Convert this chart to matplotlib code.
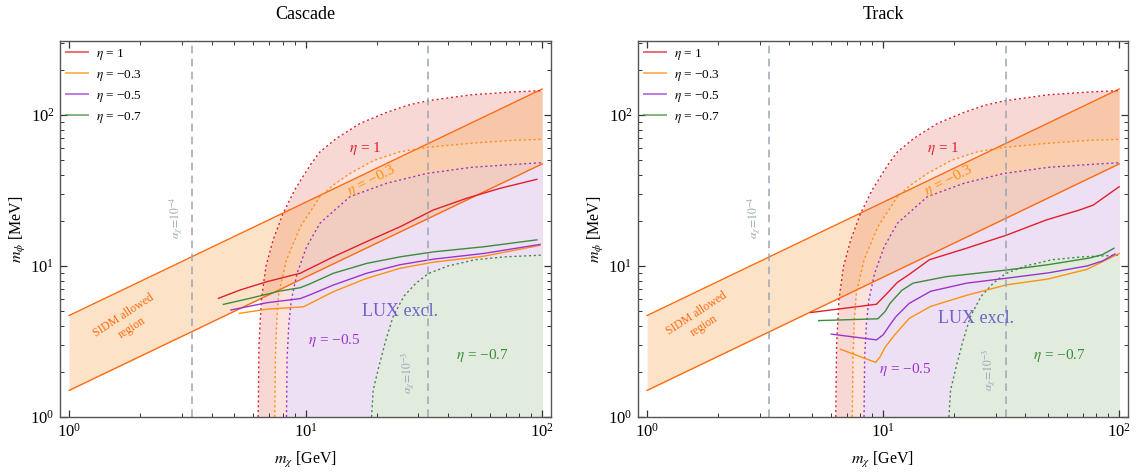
import numpy as np
import matplotlib
matplotlib.use("Agg")
import matplotlib.pyplot as plt
from matplotlib.lines import Line2D
from matplotlib.ticker import LogLocator, NullFormatter

plt.rcParams["font.family"] = ["Liberation Serif", "DejaVu Serif"]
plt.rcParams["mathtext.fontset"] = "stix"

# SIDM allowed band (straight in log-log)
sidm_x = [1.0, 100.0]
sidm_lo = [1.5, 47.4]
sidm_hi = [4.7, 148.6]

# LUX exclusion boundaries (same for both panels)
eta1_x = [6.3, 6.35, 6.5, 6.8, 7.3, 8.0, 9.0, 10.5, 11.5, 13.5, 17, 22, 27, 32.5, 50, 75, 100]
eta1_y = [1, 3, 6, 10, 15, 22, 32, 47, 57, 70, 88, 104, 116, 124, 136, 142, 145]
eta03_x = [7.4, 7.45, 7.55, 7.7, 8.3, 9.5, 11.5, 13.1, 15.4, 19.4, 25, 32.5, 50, 75, 100]
eta03_y = [1, 2.5, 4.4, 6.6, 11, 18.2, 28.8, 34.4, 41, 50, 57, 61, 65, 68, 69]
eta05_x = [8.3, 8.35, 8.5, 8.7, 9.2, 10.1, 11.5, 13.5, 15.4, 22, 32.5, 50, 75, 100]
eta05_y = [1, 2.5, 4.2, 5.95, 8.95, 13.4, 19.2, 24, 28.8, 35.3, 41, 45, 47, 48.3]
eta07_x = [19, 19.3, 20.4, 21.8, 23.4, 26, 29.3, 33, 40, 52, 70, 100]
eta07_y = [1, 1.5, 2.16, 3.2, 4.6, 6.3, 7.7, 8.9, 10, 11, 11.5, 11.8]

# Cascade curves
cas_red_x = [4.28, 5.28, 6.85, 9.48, 10.1, 13.1, 18.1, 25.1, 34.7, 48, 66.4, 95]
cas_red_y = [6.11, 6.93, 7.87, 8.95, 9.4, 11.5, 14.5, 18.2, 23.5, 28.1, 32.7, 37.5]
cas_org_x = [5.25, 6.85, 9.8, 10.8, 13.1, 18.1, 25.1, 34.7, 56.5, 98]
cas_org_y = [4.86, 5.17, 5.37, 5.8, 6.76, 8.28, 9.66, 10.6, 11.6, 13.7]
cas_pur_x = [4.83, 6.85, 9.48, 10.4, 13.1, 18.1, 25.1, 34.7, 56.5, 98]
cas_pur_y = [5.11, 5.71, 6.08, 6.43, 7.48, 8.95, 10.2, 11.1, 12.1, 13.9]
cas_grn_x = [4.49, 5.82, 7.8, 9.48, 10.4, 13.1, 18.1, 25.1, 34.7, 56.5, 95]
cas_grn_y = [5.57, 6.11, 6.83, 7.18, 7.6, 8.95, 10.4, 11.5, 12.4, 13.4, 14.9]

# Track curves
trk_red_x = [4.94, 9.37, 10.4, 11.5, 12.9, 15.7, 22.5, 33.3, 49.2, 68, 77.6, 100]
trk_red_y = [4.92, 5.58, 6.6, 7.8, 8.8, 11, 13.1, 16, 20.2, 23.5, 25.3, 33.5]
trk_org_x = [6.59, 9.3, 9.7, 10.2, 11.2, 12.9, 15.9, 22.6, 33.3, 50, 73, 100]
trk_org_y = [2.81, 2.3, 2.5, 2.9, 3.5, 4.5, 5.4, 6.4, 7.5, 8.2, 9.5, 12.1]
trk_pur_x = [6.03, 9.37, 10.0, 10.6, 11.3, 12.9, 15.9, 22.6, 33.3, 50, 73, 85, 96]
trk_pur_y = [3.54, 3.24, 3.5, 4.0, 4.6, 5.66, 6.8, 7.7, 8.3, 9.0, 10.0, 10.8, 12.0]
trk_grn_x = [5.33, 9.5, 10.2, 10.7, 12, 13.4, 18.5, 33.3, 50, 75, 85, 95]
trk_grn_y = [4.35, 4.47, 5.0, 5.66, 6.9, 7.7, 8.5, 9.4, 10.2, 11.3, 11.9, 13.1]

alpha_lines = [3.3, 33.0]
legend_labels = [r"$\eta$ = 1", r"$\eta$ = −0.3", r"$\eta$ = −0.5", r"$\eta$ = −0.7"]

RED, ORG, PUR, GRN = "#e0202a", "#ff9010", "#9a35cc", "#3c8c3c"
BAND = "#ff6a10"
VGRAY = "#9ba6b4"


def draw_panel(ax, curves, title, lbl05, lbl07, lux, sidm_pos, a3_pos):
    # exclusion regions
    ax.fill_between(eta1_x, 1, eta1_y, color="#f8d8d5", lw=0)
    ax.fill_between(eta03_x, 1, eta03_y, color="#fce3dd", lw=0)
    ax.fill_between(eta05_x, 1, eta05_y, color="#ede0f4", lw=0)
    ax.fill_between(eta07_x, 1, eta07_y, color="#e1ecdf", lw=0)
    # SIDM band
    ax.fill_between(sidm_x, sidm_lo, sidm_hi, color="#f89f43", alpha=0.29, lw=0)
    ax.plot(sidm_x, sidm_lo, color=BAND, lw=1.0)
    ax.plot(sidm_x, sidm_hi, color=BAND, lw=1.0)

    ax.plot(eta1_x, eta1_y, color=RED, lw=1.0, ls=(0, (1.5, 2)))
    ax.plot(eta03_x, eta03_y, color=ORG, lw=1.0, ls=(0, (1.5, 2)))
    ax.plot(eta05_x, eta05_y, color=PUR, lw=1.0, ls=(0, (1.5, 2)))
    ax.plot(eta07_x, eta07_y, color=GRN, lw=1.0, ls=(0, (1.5, 2)))

    for (cx, cy), col in zip(curves, [RED, ORG, PUR, GRN]):
        ax.plot(cx, cy, color=col, lw=1.0)

    for xv in alpha_lines:
        ax.axvline(xv, color=VGRAY, lw=1.1, ls=(0, (5, 3.5)))

    ax.text(17.9, 60, r"$\eta$ = 1", color=RED, fontsize=11, ha="center", va="center")
    ax.text(19, 37, r"$\eta$ = −0.3", color=ORG, fontsize=11, ha="center", va="center",
            rotation=27)
    ax.text(lbl05[0], lbl05[1], r"$\eta$ = −0.5", color=PUR, fontsize=11,
            ha="center", va="center")
    ax.text(lbl07[0], lbl07[1], r"$\eta$ = −0.7", color=GRN, fontsize=11,
            ha="center", va="center")
    ax.text(lux[0], lux[1], "LUX excl.", color="#6c62cc", fontsize=13,
            ha="center", va="center")
    ax.text(sidm_pos[0], sidm_pos[1], "SIDM allowed\nregion", color=BAND, fontsize=8.5,
            ha="center", va="center", rotation=33, linespacing=1.3)
    ax.text(2.85, 21, r"$\alpha_\chi\!=\!10^{-4}$", color=VGRAY, fontsize=8.5,
            ha="center", va="center", rotation=90)
    ax.text(a3_pos[0], a3_pos[1], r"$\alpha_\chi\!=\!10^{-3}$", color=VGRAY, fontsize=8.5,
            ha="center", va="center", rotation=90)

    handles = [Line2D([], [], color=c, lw=1.4, alpha=0.65) for c in [RED, ORG, PUR, GRN]]
    ax.legend(handles, legend_labels, loc="upper left", frameon=False, fontsize=9.5,
              handlelength=1.7, handletextpad=0.6, labelspacing=0.45,
              borderaxespad=0.1, borderpad=0.35)

    ax.set_xscale("log")
    ax.set_yscale("log")
    ax.set_xlim(0.915, 109)
    ax.set_ylim(1, 309)
    ax.xaxis.set_major_locator(LogLocator(base=10, numticks=10))
    ax.yaxis.set_major_locator(LogLocator(base=10, numticks=10))
    ax.xaxis.set_minor_locator(LogLocator(base=10, subs=np.arange(2, 10), numticks=20))
    ax.yaxis.set_minor_locator(LogLocator(base=10, subs=np.arange(2, 10), numticks=20))
    ax.xaxis.set_minor_formatter(NullFormatter())
    ax.yaxis.set_minor_formatter(NullFormatter())
    ax.tick_params(which="both", direction="in", top=True, right=True,
                   labelsize=12, color="#333333")
    ax.tick_params(which="major", length=5, width=0.9, pad=4)
    ax.tick_params(which="minor", length=3, width=0.7)
    for sp in ax.spines.values():
        sp.set_color("#555555")
        sp.set_linewidth(1.0)

    ax.set_title(title, fontsize=13, pad=16)
    ax.set_xlabel(r"$m_\chi$ [GeV]", fontsize=11.5, labelpad=7)
    ax.set_ylabel(r"$m_\phi$ [MeV]", fontsize=11.5, labelpad=2)


fig = plt.figure(figsize=(11.36, 4.73), dpi=100)
ax1 = fig.add_axes([60 / 1136, 56 / 473, 491 / 1136, 376 / 473])
ax2 = fig.add_axes([638 / 1136, 56 / 473, 490 / 1136, 376 / 473])

draw_panel(ax1,
           [(cas_red_x, cas_red_y), (cas_org_x, cas_org_y),
            (cas_pur_x, cas_pur_y), (cas_grn_x, cas_grn_y)],
           "Cascade", (13.2, 3.2), (55.8, 2.54), (25, 5.0), (1.77, 4.3), (27.4, 1.95))
draw_panel(ax2,
           [(trk_red_x, trk_red_y), (trk_org_x, trk_org_y),
            (trk_pur_x, trk_pur_y), (trk_grn_x, trk_grn_y)],
           "Track", (12.4, 2.05), (55.5, 2.54), (24.7, 4.5), (1.68, 4.4), (28.4, 2.05))

fig.savefig("out.png", dpi=100)
